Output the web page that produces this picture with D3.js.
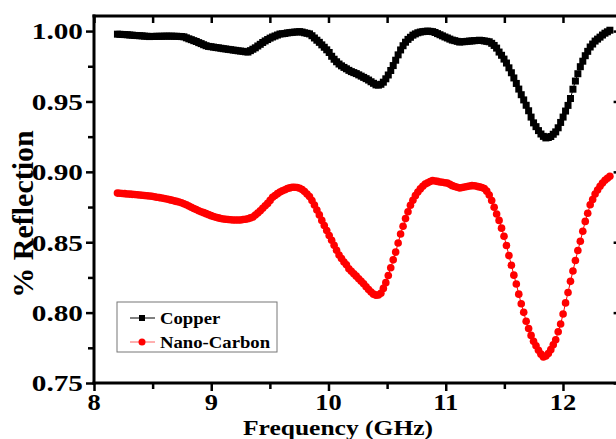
<!DOCTYPE html>
<html><head><meta charset="utf-8">
<script src="https://cdn.jsdelivr.net/npm/d3@7"></script>
<style>html,body{margin:0;padding:0;background:#fff;}svg{display:block;}</style>
</head><body>
<svg id="chart" width="616" height="439"></svg>
<script>
const freqs = [
8.200,8.221,8.242,8.263,8.284,8.305,8.326,8.347,8.368,8.389,
8.410,8.431,8.452,8.473,8.494,8.515,8.536,8.557,8.578,8.599,
8.620,8.641,8.662,8.683,8.704,8.725,8.746,8.767,8.788,8.809,
8.830,8.851,8.872,8.893,8.914,8.935,8.956,8.977,8.998,9.019,
9.040,9.061,9.082,9.103,9.124,9.145,9.166,9.187,9.208,9.229,
9.250,9.271,9.292,9.313,9.334,9.355,9.376,9.397,9.418,9.439,
9.460,9.481,9.502,9.523,9.544,9.565,9.586,9.607,9.628,9.649,
9.670,9.691,9.712,9.733,9.754,9.775,9.796,9.817,9.838,9.859,
9.880,9.901,9.922,9.943,9.964,9.985,10.006,10.027,10.048,10.069,
10.090,10.111,10.132,10.153,10.174,10.195,10.216,10.237,10.258,10.279,
10.300,10.321,10.342,10.363,10.384,10.405,10.426,10.447,10.468,10.489,
10.510,10.531,10.552,10.573,10.594,10.615,10.636,10.657,10.678,10.699,
10.720,10.741,10.762,10.783,10.804,10.825,10.846,10.867,10.888,10.909,
10.930,10.951,10.972,10.993,11.014,11.035,11.056,11.077,11.098,11.119,
11.140,11.161,11.182,11.203,11.224,11.245,11.266,11.287,11.308,11.329,
11.350,11.371,11.392,11.413,11.434,11.455,11.476,11.497,11.518,11.539,
11.560,11.581,11.602,11.623,11.644,11.665,11.686,11.707,11.728,11.749,
11.770,11.791,11.812,11.833,11.854,11.875,11.896,11.917,11.938,11.959,
11.980,12.001,12.022,12.043,12.064,12.085,12.106,12.127,12.148,12.169,
12.190,12.211,12.232,12.253,12.274,12.295,12.316,12.337,12.358,12.379,
12.400];

const copper = [
0.9978,0.9977,0.9976,0.9975,0.9974,0.9972,0.9971,0.9969,0.9968,0.9967,
0.9966,0.9964,0.9963,0.9961,0.9962,0.9962,0.9963,0.9963,0.9963,0.9964,
0.9964,0.9964,0.9964,0.9963,0.9963,0.9962,0.9961,0.9959,0.9952,0.9945,
0.9939,0.9932,0.9926,0.9918,0.9911,0.9903,0.9896,0.9891,0.9889,0.9886,
0.9883,0.9881,0.9878,0.9875,0.9873,0.9870,0.9868,0.9865,0.9863,0.9860,
0.9858,0.9856,0.9853,0.9851,0.9861,0.9871,0.9881,0.9894,0.9906,0.9919,
0.9930,0.9940,0.9950,0.9958,0.9965,0.9972,0.9979,0.9981,0.9983,0.9987,
0.9989,0.9991,0.9993,0.9994,0.9996,0.9993,0.9988,0.9984,0.9980,0.9967,
0.9951,0.9935,0.9920,0.9902,0.9885,0.9867,0.9848,0.9821,0.9800,0.9782,
0.9766,0.9753,0.9742,0.9732,0.9721,0.9712,0.9705,0.9698,0.9689,0.9680,
0.9671,0.9662,0.9652,0.9640,0.9629,0.9618,0.9616,0.9622,0.9637,0.9661,
0.9688,0.9720,0.9755,0.9793,0.9831,0.9866,0.9896,0.9921,0.9941,0.9956,
0.9971,0.9980,0.9988,0.9993,0.9996,0.9998,1.0000,0.9998,0.9996,0.9990,
0.9982,0.9974,0.9966,0.9958,0.9951,0.9943,0.9936,0.9932,0.9927,0.9922,
0.9924,0.9925,0.9927,0.9929,0.9930,0.9932,0.9933,0.9935,0.9933,0.9930,
0.9927,0.9924,0.9913,0.9898,0.9879,0.9851,0.9828,0.9801,0.9773,0.9739,
0.9704,0.9667,0.9628,0.9588,0.9548,0.9511,0.9473,0.9434,0.9389,0.9348,
0.9321,0.9293,0.9269,0.9252,0.9241,0.9244,0.9251,0.9267,0.9284,0.9313,
0.9351,0.9389,0.9432,0.9472,0.9521,0.9587,0.9645,0.9697,0.9747,0.9786,
0.9825,0.9856,0.9887,0.9908,0.9929,0.9943,0.9957,0.9972,0.9985,0.9995,
1.0006];

const nanoCarbon = [
0.8849,0.8848,0.8846,0.8845,0.8843,0.8842,0.8840,0.8839,0.8837,0.8835,
0.8834,0.8832,0.8830,0.8828,0.8827,0.8823,0.8820,0.8817,0.8814,0.8811,
0.8807,0.8803,0.8799,0.8794,0.8790,0.8786,0.8780,0.8773,0.8766,0.8757,
0.8749,0.8740,0.8732,0.8724,0.8717,0.8710,0.8703,0.8696,0.8689,0.8683,
0.8677,0.8673,0.8669,0.8665,0.8663,0.8661,0.8660,0.8658,0.8658,0.8658,
0.8658,0.8661,0.8663,0.8667,0.8673,0.8679,0.8693,0.8708,0.8723,0.8741,
0.8759,0.8776,0.8797,0.8819,0.8832,0.8845,0.8857,0.8865,0.8873,0.8881,
0.8886,0.8891,0.8891,0.8889,0.8884,0.8874,0.8860,0.8843,0.8824,0.8796,
0.8764,0.8729,0.8694,0.8655,0.8619,0.8583,0.8548,0.8514,0.8478,0.8443,
0.8409,0.8384,0.8360,0.8340,0.8312,0.8294,0.8276,0.8259,0.8241,0.8223,
0.8205,0.8184,0.8164,0.8146,0.8131,0.8124,0.8125,0.8138,0.8172,0.8213,
0.8264,0.8319,0.8375,0.8430,0.8495,0.8558,0.8613,0.8668,0.8716,0.8763,
0.8798,0.8831,0.8856,0.8879,0.8897,0.8914,0.8922,0.8931,0.8938,0.8935,
0.8932,0.8928,0.8926,0.8923,0.8920,0.8911,0.8902,0.8896,0.8891,0.8886,
0.8889,0.8892,0.8896,0.8899,0.8902,0.8901,0.8897,0.8893,0.8889,0.8881,
0.8863,0.8835,0.8796,0.8748,0.8701,0.8655,0.8600,0.8543,0.8477,0.8405,
0.8337,0.8266,0.8203,0.8131,0.8063,0.8002,0.7939,0.7887,0.7838,0.7796,
0.7765,0.7733,0.7705,0.7685,0.7692,0.7710,0.7737,0.7771,0.7807,0.7864,
0.7919,0.7990,0.8069,0.8143,0.8222,0.8296,0.8370,0.8441,0.8507,0.8578,
0.8648,0.8706,0.8766,0.8804,0.8842,0.8871,0.8898,0.8920,0.8940,0.8955,
0.8969];

const seriesNames = ["Copper", "Nano-Carbon"];
const seriesColors = ["#000000", "#ff0000"];
const xMajorTicks = [8, 9, 10, 11, 12];
const xMinorTicks = [8.5, 9.5, 10.5, 11.5, 12.5];
const yMajorTicks = [0.75, 0.80, 0.85, 0.90, 0.95, 1.00];
const yMinorTicks = [0.775, 0.825, 0.875, 0.925, 0.975];
const xTitle = "Frequency (GHz)";
const yTitle = "% Reflection";

const svg = d3.select("#chart");
const FONT = "'Liberation Serif','Times New Roman',serif";
const L = 94, R = 621.6, T = 17, B = 383;
const x = d3.scaleLinear().domain([8, 12.5]).range([L, R]);
const y = d3.scaleLinear().domain([0.75, 1.01]).range([B, T]);

const defs = svg.append("defs");
defs.append("clipPath").attr("id", "clip").append("rect")
  .attr("x", L).attr("y", T - 2).attr("width", R - L).attr("height", B - T + 2);

function styleAxis(g, w) {
  g.select(".domain").remove();
  g.selectAll(".tick line").attr("stroke", "#000").attr("stroke-width", w);
  g.selectAll(".tick text").remove();
}
svg.append("g").attr("transform", `translate(0,${B})`)
  .call(d3.axisBottom(x).tickValues(xMajorTicks).tickSize(8)).call(g => styleAxis(g, 2.5));
svg.append("g").attr("transform", `translate(0,${B})`)
  .call(d3.axisBottom(x).tickValues(xMinorTicks).tickSize(6)).call(g => styleAxis(g, 2.5));
svg.append("g").attr("transform", `translate(0,${T - 1})`)
  .call(d3.axisTop(x).tickValues(xMajorTicks.concat(xMinorTicks)).tickSize(-7)).call(g => styleAxis(g, 2.5));
svg.append("g").attr("transform", `translate(${L},0)`)
  .call(d3.axisLeft(y).tickValues(yMajorTicks).tickSize(8)).call(g => styleAxis(g, 2.5));
svg.append("g").attr("transform", `translate(${L},0)`)
  .call(d3.axisLeft(y).tickValues(yMinorTicks).tickSize(6)).call(g => styleAxis(g, 2.5));
svg.append("g").attr("transform", `translate(${R},0)`)
  .call(d3.axisRight(y).tickValues(yMajorTicks).tickSize(-8)).call(g => styleAxis(g, 2.5));

svg.append("line").attr("x1", L).attr("x2", L).attr("y1", T - 2.5).attr("y2", B + 1.5)
  .attr("stroke", "#000").attr("stroke-width", 3);
svg.append("line").attr("x1", L - 1.5).attr("x2", R).attr("y1", B).attr("y2", B)
  .attr("stroke", "#000").attr("stroke-width", 3);
svg.append("line").attr("x1", L - 1.5).attr("x2", R).attr("y1", T - 1).attr("y2", T - 1)
  .attr("stroke", "#000").attr("stroke-width", 3);
svg.append("line").attr("x1", R).attr("x2", R).attr("y1", T - 2.5).attr("y2", B + 1.5)
  .attr("stroke", "#000").attr("stroke-width", 3);

const plot = svg.append("g").attr("clip-path", "url(#clip)");
const seriesData = [copper, nanoCarbon];
const line = d3.line().x(d => x(d[0])).y(d => y(d[1]));
seriesData.forEach((vals, si) => {
  const pts = freqs.map((f, i) => [f, vals[i]]);
  plot.append("path").datum(pts).attr("d", line).attr("fill", "none")
    .attr("stroke", seriesColors[si]).attr("stroke-width", 1);
  if (si === 0) {
    plot.selectAll(null).data(pts).enter().append("rect")
      .attr("x", d => x(d[0]) - 3.5).attr("y", d => y(d[1]) - 3.5)
      .attr("width", 7).attr("height", 7).attr("fill", "#000");
  } else {
    plot.selectAll(null).data(pts).enter().append("circle")
      .attr("cx", d => x(d[0])).attr("cy", d => y(d[1])).attr("r", 3.8)
      .attr("fill", "#ff0000");
  }
});

svg.append("g").selectAll("text").data(yMajorTicks).enter().append("text")
  .attr("transform", d => `translate(83,${y(d)}) scale(1.22,1)`)
  .attr("dy", "0.35em").attr("text-anchor", "end")
  .attr("font-family", FONT).attr("font-weight", "bold").attr("font-size", 24)
  .text(d => d3.format(".2f")(d));
svg.append("g").selectAll("text").data(xMajorTicks).enter().append("text")
  .attr("transform", d => `translate(${x(d)},410) scale(1.15,1)`)
  .attr("text-anchor", "middle")
  .attr("font-family", FONT).attr("font-weight", "bold").attr("font-size", 23)
  .text(d => d);

svg.append("text").attr("transform", "translate(338,435) scale(1.16,1)")
  .attr("text-anchor", "middle").attr("font-family", FONT).attr("font-weight", "bold")
  .attr("font-size", 22).text(xTitle);
svg.append("text").attr("transform", "translate(33,214) rotate(-90)")
  .attr("text-anchor", "middle").attr("font-family", FONT).attr("font-weight", "bold")
  .attr("font-size", 30).text(yTitle);

const lg = svg.append("g");
lg.append("rect").attr("x", 117).attr("y", 302).attr("width", 160).attr("height", 50)
  .attr("fill", "#fff").attr("stroke", "#777").attr("stroke-width", 1);
seriesNames.forEach((name, i) => {
  const cy = 318 + i * 24;
  lg.append("line").attr("x1", 130).attr("x2", 155).attr("y1", cy).attr("y2", cy)
    .attr("stroke", i === 0 ? "#000" : "#ff6060").attr("stroke-width", 1);
  if (i === 0) lg.append("rect").attr("x", 139).attr("y", cy - 3).attr("width", 6).attr("height", 6).attr("fill", "#000");
  else lg.append("circle").attr("cx", 142).attr("cy", cy).attr("r", 3.5).attr("fill", "#ff0000");
  lg.append("text").attr("transform", `translate(160,${cy}) scale(1.1,1)`).attr("dy", "0.35em")
    .attr("font-family", FONT).attr("font-weight", "bold").attr("font-size", 17).text(name);
});
</script>
</body></html>
